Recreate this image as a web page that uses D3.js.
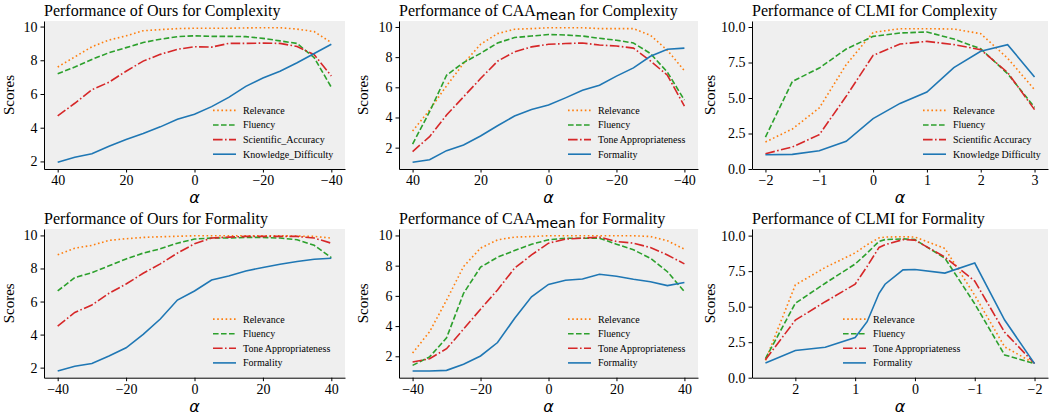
<!DOCTYPE html>
<html lang="en">
  <head>
    <meta charset="utf-8">
    <title>Performance of steering methods</title>
    <script src="https://d3js.org/d3.v7.min.js"></script>
    <style>
      body { margin: 0; background: #fff; }
    </style>
  </head>
  <body>
    <div id="grafico"></div>
    <script>

      // valores de alpha (eixo x)
      const alphaDesc = [40, 35, 30, 25, 20, 15, 10, 5, 0, -5, -10, -15, -20, -25, -30, -35, -40]
      const alphaAsc = [-40, -35, -30, -25, -20, -15, -10, -5, 0, 5, 10, 15, 20, 25, 30, 35, 40]
      const alphaClmiCx = [-2, -1.5, -1, -0.5, 0, 0.5, 1, 1.5, 2, 2.5, 3]
      const alphaClmiFm = [2.5, 2, 1.5, 1, 0.8, 0.6, 0.5, 0.2, 0, -0.5, -1, -1.5, -2]

      // Ours - Complexity
      const oursCxRelevance = [7.6, 8.2, 8.8, 9.2, 9.45, 9.75, 9.82, 9.88, 9.9, 9.9, 9.9, 9.92, 9.93, 9.93, 9.85, 9.7, 9.05]
      const oursCxFluency = [7.2, 7.6, 8.05, 8.45, 8.75, 9.05, 9.25, 9.4, 9.45, 9.42, 9.42, 9.4, 9.3, 9.15, 9.0, 8.15, 6.4]
      const oursCxAccuracy = [4.7, 5.45, 6.25, 6.7, 7.35, 7.95, 8.35, 8.65, 8.8, 8.78, 9.0, 9.0, 9.02, 9.0, 8.82, 8.33, 7.07]
      const oursCxDifficulty = [1.95, 2.25, 2.45, 2.9, 3.3, 3.65, 4.05, 4.5, 4.8, 5.25, 5.8, 6.45, 6.95, 7.35, 7.85, 8.4, 8.95]

      // CAA_mean - Complexity
      const caaCxRelevance = [3.1, 4.5, 6.1, 7.58, 8.85, 9.56, 9.85, 9.89, 9.95, 9.95, 9.95, 9.89, 9.89, 9.89, 9.45, 8.45, 7.1]
      const caaCxFluency = [2.24, 4.38, 6.8, 7.64, 8.25, 8.94, 9.3, 9.4, 9.5, 9.47, 9.4, 9.25, 9.12, 8.94, 8.24, 7.0, 5.15]
      const caaCxTone = [1.74, 2.73, 4.16, 5.37, 6.58, 7.73, 8.35, 8.68, 8.85, 8.9, 8.94, 8.8, 8.74, 8.6, 7.75, 6.8, 4.75]
      const caaCxFormality = [1.03, 1.2, 1.8, 2.18, 2.77, 3.45, 4.1, 4.53, 4.82, 5.3, 5.8, 6.14, 6.74, 7.29, 8.06, 8.52, 8.6]

      // CLMI - Complexity
      const clmiCxRelevance = [1.9, 2.82, 4.3, 7.35, 9.62, 9.88, 9.88, 9.86, 9.53, 7.8, 5.59]
      const clmiCxFluency = [2.25, 6.17, 7.11, 8.45, 9.34, 9.58, 9.65, 9.15, 8.47, 6.71, 4.34]
      const clmiCxAccuracy = [1.08, 1.55, 2.42, 5.12, 8.0, 8.8, 8.99, 8.76, 8.4, 6.8, 4.18]
      const clmiCxDifficulty = [1.0, 1.03, 1.29, 1.95, 3.55, 4.62, 5.42, 7.14, 8.29, 8.76, 6.48]

      // Ours - Formality
      const oursFmRelevance = [8.83, 9.23, 9.4, 9.7, 9.8, 9.88, 9.92, 9.95, 9.98, 9.98, 9.98, 9.98, 9.98, 9.98, 9.96, 9.94, 9.84]
      const oursFmFluency = [6.64, 7.45, 7.75, 8.16, 8.58, 8.93, 9.19, 9.53, 9.78, 9.84, 9.84, 9.88, 9.88, 9.84, 9.74, 9.4, 8.66]
      const oursFmTone = [4.51, 5.34, 5.79, 6.5, 7.06, 7.71, 8.28, 8.93, 9.49, 9.84, 9.9, 9.94, 9.94, 9.94, 9.94, 9.84, 9.53]
      const oursFmFormality = [1.8, 2.08, 2.25, 2.71, 3.2, 4.01, 4.94, 6.09, 6.64, 7.3, 7.55, 7.85, 8.06, 8.26, 8.42, 8.56, 8.62]

      // CAA_mean - Formality
      const caaFmRelevance = [2.22, 3.62, 5.72, 7.94, 9.16, 9.71, 9.89, 9.93, 9.98, 9.98, 9.98, 9.98, 9.98, 9.98, 9.93, 9.65, 9.09]
      const caaFmFluency = [1.4, 1.96, 3.22, 6.17, 7.9, 8.56, 9.0, 9.42, 9.71, 9.82, 9.82, 9.82, 9.42, 9.05, 8.49, 7.6, 6.28]
      const caaFmTone = [1.62, 1.84, 2.5, 3.8, 5.12, 6.39, 7.83, 8.71, 9.49, 9.76, 9.82, 9.89, 9.6, 9.49, 9.2, 8.71, 8.12]
      const caaFmFormality = [1.03, 1.03, 1.07, 1.47, 2.02, 2.91, 4.5, 5.94, 6.76, 7.03, 7.12, 7.43, 7.3, 7.1, 6.94, 6.68, 6.88]

      // CLMI - Formality
      const clmiFmRelevance = [1.22, 6.53, 7.76, 8.78, 9.36, 9.84, 9.9, 9.92, 9.9, 9.1, 5.8, 2.17, 1.0]
      const clmiFmFluency = [1.34, 5.24, 6.65, 8.0, 8.77, 9.6, 9.72, 9.77, 9.72, 8.42, 5.2, 1.6, 0.99]
      const clmiFmTone = [1.27, 4.05, 5.35, 6.58, 7.83, 9.17, 9.36, 9.72, 9.68, 8.5, 6.8, 3.2, 1.0]
      const clmiFmFormality = [1.03, 1.91, 2.14, 2.83, 3.94, 5.94, 6.58, 7.59, 7.62, 7.36, 8.07, 4.06, 0.99]

      // rótulos e ticks
      const legendaOursCx = ['Relevance', 'Fluency', 'Scientific_Accuracy', 'Knowledge_Difficulty']
      const legendaClmiCx = ['Relevance', 'Fluency', 'Scientific Accuracy', 'Knowledge Difficulty']
      const legendaTom = ['Relevance', 'Fluency', 'Tone Appropriateness', 'Formality']
      const ticksAlphaDesc = [40, 20, 0, -20, -40]
      const ticksAlphaAsc = [-40, -20, 0, 20, 40]
      const ticksClmiCx = [-2, -1, 0, 1, 2, 3]
      const ticksClmiFm = [2, 1, 0, -1, -2]
      const ticksScores = [2, 4, 6, 8, 10]
      const ticksScoresClmi = [0, 2.5, 5, 7.5, 10]

      const cores = ['#ff7f0e', '#2ca02c', '#d62728', '#1f77b4']
      const tracos = ['1.6,2.6', '5.6,2.4', '9.6,2.4,1.6,2.4', null]

      const serifa = "'Liberation Serif', 'DejaVu Serif', 'Times New Roman', serif"
      const semSerifa = "'DejaVu Sans', sans-serif"

      const linhas = [21, 169]
      const linhas2 = [229, 377.7]
      const colunas = [[44, 345], [399, 698], [752, 1048]]

      const paineis = [
        { metodo: 'Ours', alvo: 'Complexity', x: alphaDesc, series: [oursCxRelevance, oursCxFluency, oursCxAccuracy, oursCxDifficulty],
          legenda: legendaOursCx, xTicks: ticksAlphaDesc, yTicks: ticksScores, inverte: true, linha: linhas, coluna: colunas[0], legX: 169, labX: 30 },
        { metodo: 'CAA', alvo: 'Complexity', x: alphaDesc, series: [caaCxRelevance, caaCxFluency, caaCxTone, caaCxFormality],
          legenda: legendaTom, xTicks: ticksAlphaDesc, yTicks: ticksScores, inverte: true, linha: linhas, coluna: colunas[1], legX: 169, labX: 31 },
        { metodo: 'CLMI', alvo: 'Complexity', x: alphaClmiCx, series: [clmiCxRelevance, clmiCxFluency, clmiCxAccuracy, clmiCxDifficulty],
          legenda: legendaClmiCx, xTicks: ticksClmiCx, yTicks: ticksScoresClmi, inverte: false, linha: linhas, coluna: colunas[2], legX: 171, labX: 37, zero: true },
        { metodo: 'Ours', alvo: 'Formality', x: alphaAsc, series: [oursFmRelevance, oursFmFluency, oursFmTone, oursFmFormality],
          legenda: legendaTom, xTicks: ticksAlphaAsc, yTicks: ticksScores, inverte: false, linha: linhas2, coluna: colunas[0], legX: 169, labX: 30 },
        { metodo: 'CAA', alvo: 'Formality', x: alphaAsc, series: [caaFmRelevance, caaFmFluency, caaFmTone, caaFmFormality],
          legenda: legendaTom, xTicks: ticksAlphaAsc, yTicks: ticksScores, inverte: false, linha: linhas2, coluna: colunas[1], legX: 169, labX: 31 },
        { metodo: 'CLMI', alvo: 'Formality', x: alphaClmiFm, series: [clmiFmRelevance, clmiFmFluency, clmiFmTone, clmiFmFormality],
          legenda: legendaTom, xTicks: ticksClmiFm, yTicks: ticksScoresClmi, inverte: true, linha: linhas2, coluna: colunas[2], legX: 91, labX: 37, zero: true }
      ]

      const svg = d3.select('#grafico')
        .append('svg')
          .attr('width', 1049)
          .attr('height', 415)
          .attr('font-family', serifa)

      paineis.forEach(p => {
        const [x0, x1] = p.coluna
        const [y0, y1] = p.linha

        const ext = d3.extent(p.x)
        const mx = (ext[1] - ext[0]) * 0.05
        const dominioX = p.inverte ? [ext[1] + mx, ext[0] - mx] : [ext[0] - mx, ext[1] + mx]
        const x = d3.scaleLinear().domain(dominioX).range([x0, x1])

        const todos = p.series.flat()
        const ymin = d3.min(todos), ymax = d3.max(todos)
        const my = (ymax - ymin) * 0.05
        const y = d3.scaleLinear()
          .domain(p.zero ? [0, ymax * 1.055] : [ymin - my, ymax + my])
          .range([y1, y0])

        const g = svg.append('g')

        g.append('rect')
          .attr('x', x0).attr('y', y0)
          .attr('width', x1 - x0).attr('height', y1 - y0)
          .attr('fill', '#efefef')

        const linha = d3.line().x(d => x(d[0])).y(d => y(d[1]))
        p.series.forEach((s, i) => {
          g.append('path')
            .datum(p.x.map((a, j) => [a, s[j]]))
            .attr('d', linha)
            .attr('fill', 'none')
            .attr('stroke', cores[i])
            .attr('stroke-width', 1.6)
            .attr('stroke-dasharray', tracos[i])
        })

        const fmtY = p.zero ? d3.format('.1f') : d3.format('d')

        const eixoX = g.append('g')
          .attr('transform', `translate(0, ${y1})`)
          .call(d3.axisBottom(x).tickValues(p.xTicks).tickFormat(d3.format('d'))
            .tickSizeInner(3.5).tickSizeOuter(0).tickPadding(2.5))
        const eixoY = g.append('g')
          .attr('transform', `translate(${x0}, 0)`)
          .call(d3.axisLeft(y).tickValues(p.yTicks).tickFormat(fmtY)
            .tickSizeInner(3.5).tickSizeOuter(0).tickPadding(3))

        ;[eixoX, eixoY].forEach(e => {
          e.attr('font-family', serifa).attr('font-size', 14)
          e.selectAll('text').attr('fill', '#000')
          e.selectAll('line, path').attr('stroke', '#000').attr('stroke-width', 1)
        })

        // título
        const titulo = g.append('text')
          .attr('x', x0)
          .attr('y', y0 - 5)
          .attr('font-size', 16)
        titulo.append('tspan').text('Performance of ' + p.metodo)
        if (p.metodo === 'CAA') {
          titulo.append('tspan')
            .attr('dy', 4)
            .attr('font-size', 14)
            .attr('font-family', semSerifa)
            .text('mean')
          titulo.append('tspan').attr('dy', -4).text(' for ' + p.alvo)
        } else {
          titulo.append('tspan').text(' for ' + p.alvo)
        }

        // eixos: rótulos
        g.append('text')
          .attr('transform', `translate(${x0 - p.labX}, ${(y0 + y1) / 2}) rotate(-90)`)
          .attr('text-anchor', 'middle')
          .attr('font-size', 15)
          .text('Scores')

        g.append('text')
          .attr('x', (x0 + x1) / 2)
          .attr('y', y1 + 34)
          .attr('text-anchor', 'middle')
          .attr('font-size', 16)
          .attr('font-style', 'italic')
          .attr('font-family', semSerifa)
          .text('α')

        // legenda
        const leg = g.append('g')
          .attr('transform', `translate(${x0 + p.legX}, ${y1 - 14.8 - 3 * 14.6})`)
        p.legenda.forEach((nome, i) => {
          leg.append('line')
            .attr('x1', 0).attr('x2', 23)
            .attr('y1', i * 14.6).attr('y2', i * 14.6)
            .attr('stroke', cores[i])
            .attr('stroke-width', 1.6)
            .attr('stroke-dasharray', tracos[i])
          leg.append('text')
            .attr('x', 30)
            .attr('y', i * 14.6 + 3.5)
            .attr('font-size', 10)
            .text(nome)
        })
      })
    </script>
  </body>
</html>
